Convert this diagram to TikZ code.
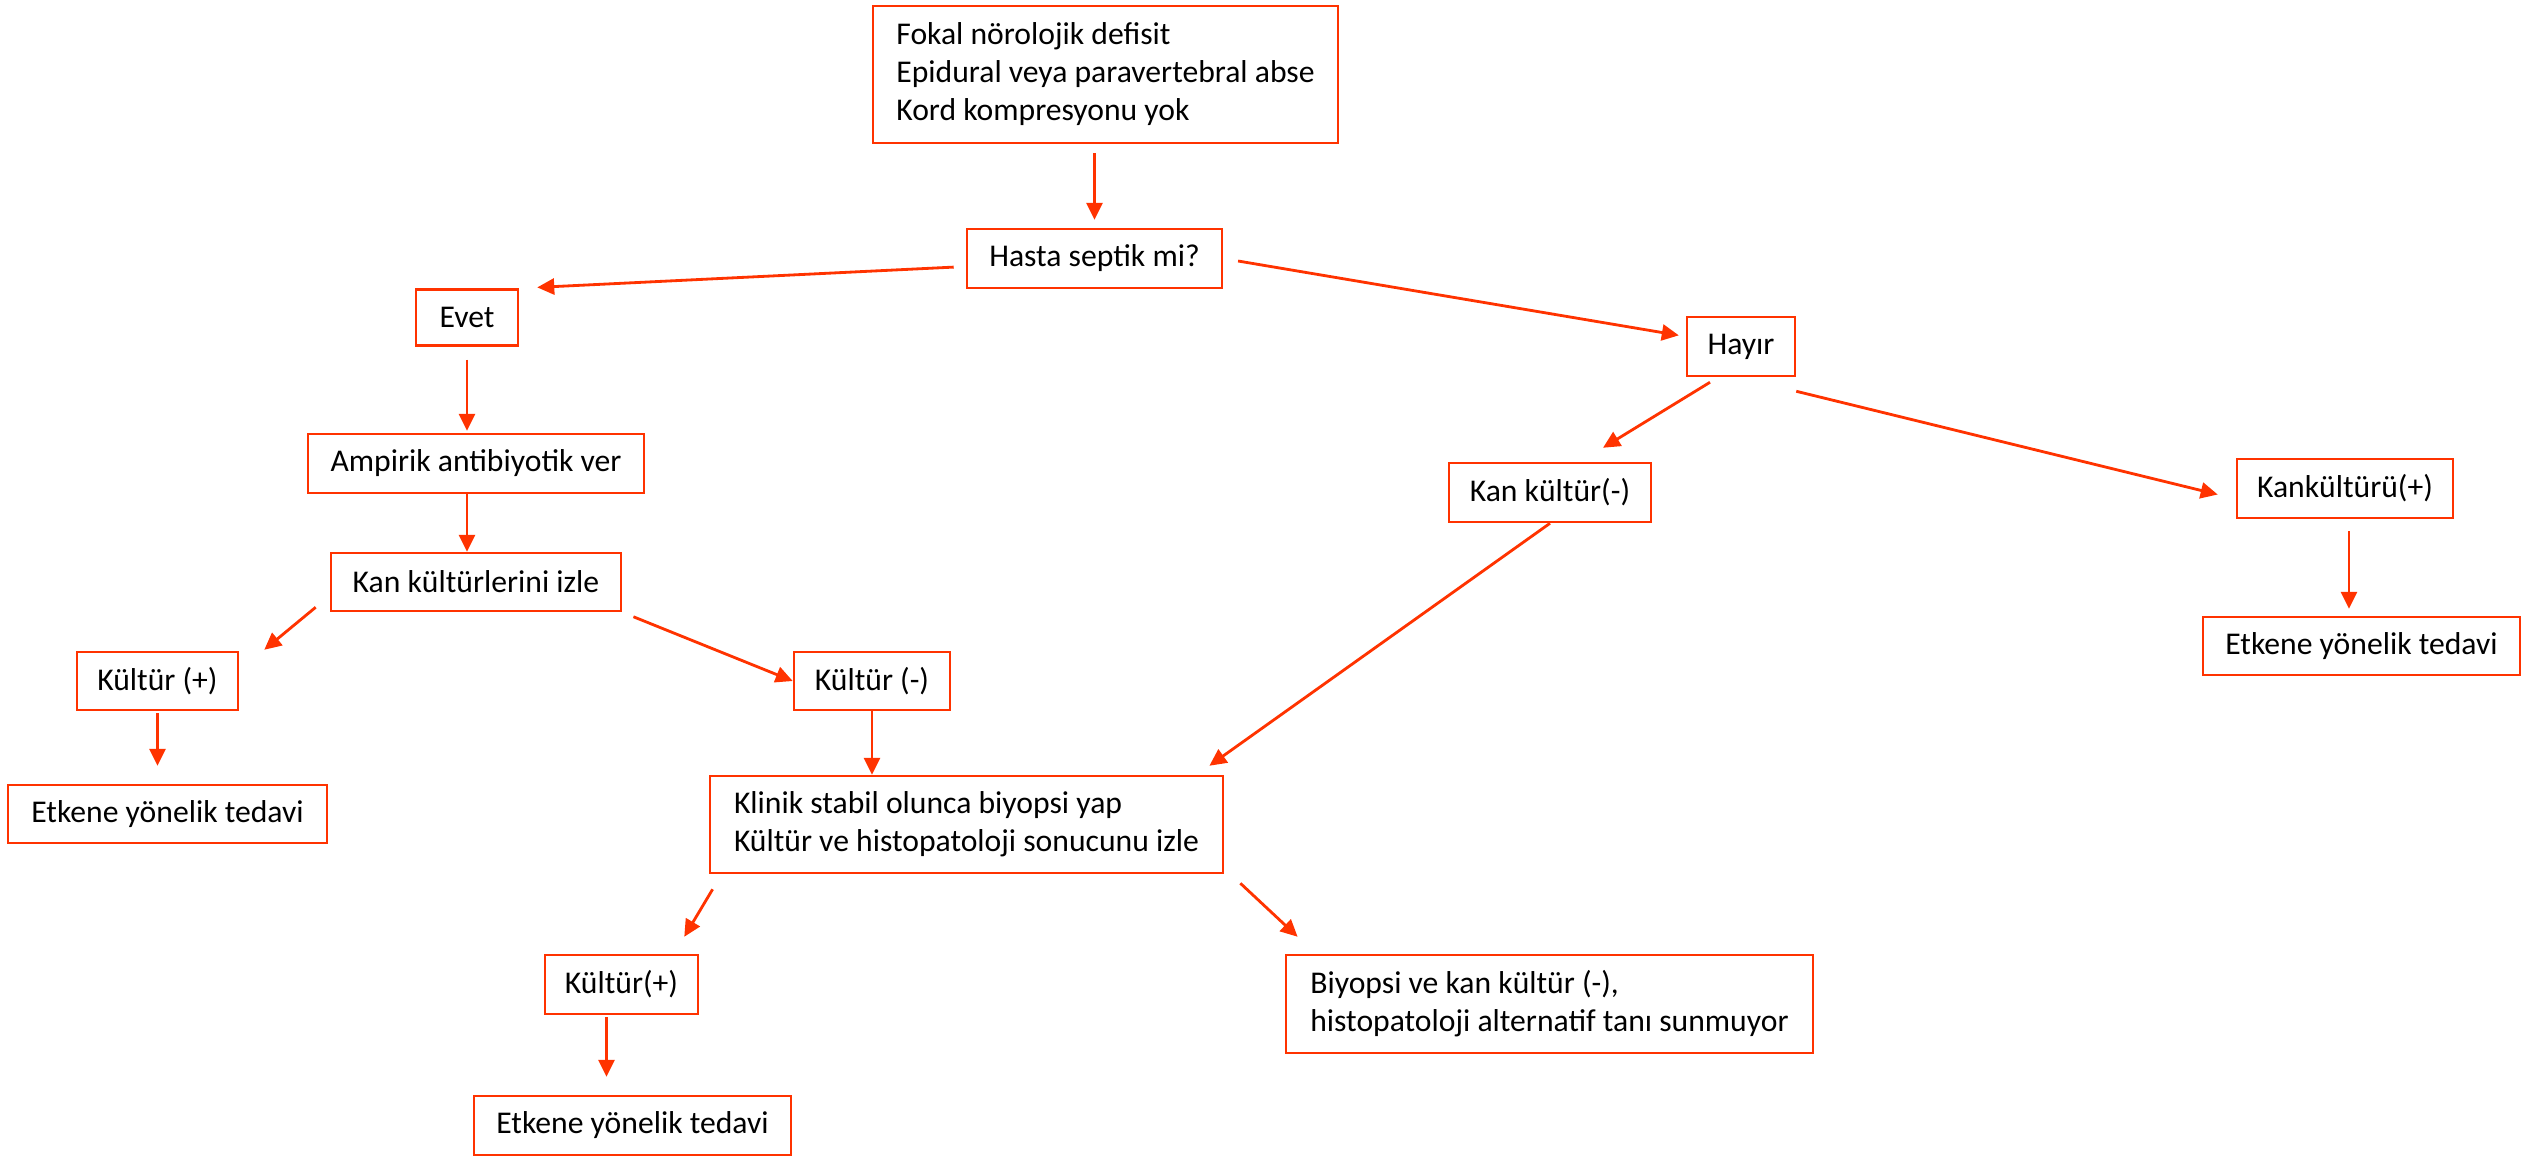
\documentclass[tikz,border=0pt]{standalone}
\usepackage{fontspec}
\setmainfont{Carlito}
\usetikzlibrary{arrows.meta,calc}
\definecolor{flow_red}{RGB}{255,51,0}

\begin{document}
\begin{tikzpicture}[x=0.01cm,y=-0.01cm,line width=0.8pt,
    >={Triangle[length=0.17cm,width=0.16cm]}]
    \tikzstyle{box}=[draw=flow_red, line width=0.7pt, rectangle, inner sep=0pt,
        font=\fontsize{9}{10.8}\selectfont, text=black, minimum height=0.59cm]
    \tikzstyle{note}=[style=box, align=left]
    \tikzstyle{link}=[->, draw=flow_red, fill=flow_red]

    \useasboundingbox (0,0) rectangle (2526,1156);

    \node[note, minimum width=4.65cm, minimum height=1.37cm] (top) at (1105.5,74.5)
        {Fokal nörolojik defisit\\Epidural veya paravertebral abse\\Kord kompresyonu yok};
    \node[box, minimum width=2.55cm] (hasta)  at (1094.5,258.5) {Hasta septik mi?};
    \node[box, minimum width=1.02cm, minimum height=0.56cm] (evet) at (467,317.5) {Evet};
    \node[box, minimum width=3.36cm] (ampirik) at (476,463.5) {Ampirik antibiyotik ver};
    \node[box, minimum width=2.90cm, minimum height=0.58cm] (kanizle) at (476,582) {Kan kültürlerini izle};
    \node[box, minimum width=1.61cm, minimum height=0.58cm] (kultp)  at (157.5,681) {Kültür (+)};
    \node[box, minimum width=3.19cm, minimum height=0.58cm] (etkA)   at (167.5,814) {Etkene yönelik tedavi};
    \node[box, minimum width=1.56cm, minimum height=0.58cm] (kultn)  at (872,681) {Kültür (-)};
    \node[note, minimum width=5.13cm, minimum height=0.97cm] (klinik) at (966.5,824.5)
        {Klinik stabil olunca biyopsi yap\\Kültür ve histopatoloji sonucunu izle};
    \node[box, minimum width=1.53cm] (kultpB) at (621.5,984.5) {Kültür(+)};
    \node[box, minimum width=3.17cm] (etkB)   at (632.5,1125.5) {Etkene yönelik tedavi};
    \node[note, minimum width=5.27cm, minimum height=0.98cm] (biyopsi) at (1549.5,1004)
        {Biyopsi ve kan kültür (-),\\histopatoloji alternatif tanı sunmuyor};
    \node[box, minimum width=1.08cm] (hayir)  at (1741,346.5) {Hayır};
    \node[box, minimum width=2.02cm] (kann)   at (1550,492.5) {Kan kültür(-)};
    \node[box, minimum width=2.16cm] (kanp)   at (2345,488.5) {Kankültürü(+)};
    \node[box, minimum width=3.17cm, minimum height=0.58cm] (etkC) at (2361.5,646) {Etkene yönelik tedavi};

    \draw[link, shorten <=0.09cm, shorten >=0.08cm] (hasta |- top.south) -- (hasta.north);
    \draw[link, shorten <=0.12cm, shorten >=0.18cm] ($(hasta.west)+(0,8)$) -- (evet.north east);
    \draw[link, shorten <=0.15cm, shorten >=0.07cm] (hasta.east) -- ($(hayir.west)+(0,-10)$);
    \draw[link, shorten <=0.13cm, shorten >=0.02cm] (evet.south) -- (evet.south |- ampirik.north);
    \draw[link] (evet.south |- ampirik.south) -- (evet.south |- kanizle.north);
    \draw[link] ($(kanizle.south west)+(-14,-5)$) -- ($(kultp.north east)+(25,-1)$);
    \draw[link, shorten <=0.12cm] (kanizle.south east) -- (kultn.west);
    \draw[link, shorten >=0.18cm, shorten <=0.02cm] (kultp.south) -- (kultp.south |- etkA.north);
    \draw[link] (kultn.south) -- (kultn.south |- klinik.north);
    \draw[link] ($(hayir.south)+(-31,5)$) -- ($(kann.north)+(53,-14)$);
    \draw[link] ($(hayir.south east)+(0,14)$) -- ($(kanp.west)+(-18,6)$);
    \draw[link] (kann.south) -- ($(klinik.north east)+(-15,-9)$);
    \draw[link, shorten <=0.12cm, shorten >=0.07cm] ($(kanp.south)+(4,0)$) -- ($(kanp.south |- etkC.north)+(4,0)$);
    \draw[link] ($(klinik.south west)+(4,15)$) -- ($(kultpB.north east)+(-15,-17)$);
    \draw[link] ($(klinik.south east)+(16,9)$) -- ($(biyopsi.north west)+(13,-17)$);
    \draw[link, shorten <=0.02cm, shorten >=0.18cm] ($(kultpB.south)+(-15,0)$) -- ($(kultpB.south |- etkB.north)+(-15,0)$);
\end{tikzpicture}
\end{document}
